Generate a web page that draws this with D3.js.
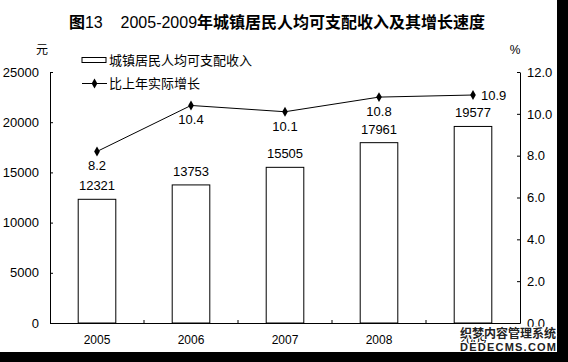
<!DOCTYPE html>
<html>
<head>
<meta charset="utf-8">
<script src="https://cdn.jsdelivr.net/npm/d3@7"></script>
<style>
  body { margin: 0; background: #fff; }
  svg { display: block; }
</style>
</head>
<body>
<div id="chart"></div>
<script>
const years = ["2005", "2006", "2007", "2008", "2009"];
const income = [12321, 13753, 15505, 17961, 19577];
const growth = [8.2, 10.4, 10.1, 10.8, 10.9];
const leftTicks = [0, 5000, 10000, 15000, 20000, 25000];
const rightTicks = [0, 2, 4, 6, 8, 10, 12];

const W = 568, H = 362;
const numFont = "'Liberation Sans', Arial, sans-serif";
const cjkFont = "'Noto Sans CJK SC', sans-serif";

const svg = d3.select("#chart").append("svg")
    .attr("width", W).attr("height", H);

svg.append("rect").attr("width", W).attr("height", H).attr("fill", "#fff");

const plot = {left: 50, right: 520, top: 72, bottom: 323};

const x = d3.scaleBand()
    .domain(years)
    .range([plot.left, plot.right])
    .paddingInner(0.6)
    .paddingOuter(0.3);
const yL = d3.scaleLinear().domain([0, 25000]).range([plot.bottom, plot.top]);
const yR = d3.scaleLinear().domain([0, 12]).range([plot.bottom, plot.top]);

// Title
const title = svg.append("text")
    .attr("x", 277).attr("y", 28)
    .attr("text-anchor", "middle")
    .attr("font-size", 16)
    .attr("fill", "#000");
title.append("tspan").attr("font-family", cjkFont).attr("font-weight", "bold").text("图");
title.append("tspan").attr("font-family", numFont).text("13\u00a0\u00a0\u00a0\u00a02005-2009");
title.append("tspan").attr("font-family", cjkFont).attr("font-weight", "bold").text("年城镇居民人均可支配收入及其增长速度");

// Units
svg.append("text").attr("x", 42).attr("y", 54).attr("text-anchor", "middle")
    .attr("font-family", cjkFont).attr("font-size", 12).text("元");
svg.append("text").attr("x", 515).attr("y", 54).attr("text-anchor", "middle")
    .attr("font-family", numFont).attr("font-size", 12).text("%");

// Axes
const axisL = svg.append("g")
    .attr("transform", `translate(${plot.left},0)`)
    .call(d3.axisLeft(yL).tickValues(leftTicks).tickSizeInner(-3).tickSizeOuter(0).tickPadding(11)
        .tickFormat(d3.format("d")));
const axisR = svg.append("g")
    .attr("transform", `translate(${plot.right},0)`)
    .call(d3.axisRight(yR).tickValues(rightTicks).tickSizeInner(-3).tickSizeOuter(0).tickPadding(7)
        .tickFormat(d3.format(".1f")));
[axisL, axisR].forEach(g => {
    g.selectAll("text").attr("font-family", numFont).attr("font-size", 13).attr("fill", "#000");
    g.selectAll("line, path").attr("stroke", "#000").attr("stroke-width", 1);
});

// Bars
svg.append("g").selectAll("rect")
    .data(years)
    .enter().append("rect")
    .attr("x", d => x(d))
    .attr("y", (d, i) => yL(income[i]))
    .attr("width", x.bandwidth())
    .attr("height", (d, i) => plot.bottom - yL(income[i]))
    .attr("fill", "#fff")
    .attr("stroke", "#000")
    .attr("stroke-width", 1);

// Bottom axis
const axisB = svg.append("g")
    .attr("transform", `translate(0,${plot.bottom})`)
    .call(d3.axisBottom(x).tickSize(0).tickPadding(12));
axisB.select("path").attr("stroke", "#000");
axisB.selectAll("text").attr("font-family", numFont).attr("font-size", 12).attr("fill", "#000");
const step = x.step();
svg.append("g").selectAll("line")
    .data(years.slice(1))
    .enter().append("line")
    .attr("x1", d => x(d) - step * x.paddingInner() / 2)
    .attr("x2", d => x(d) - step * x.paddingInner() / 2)
    .attr("y1", plot.bottom).attr("y2", plot.bottom - 3)
    .attr("stroke", "#000");

// Bar labels
svg.append("g").selectAll("text")
    .data(years)
    .enter().append("text")
    .attr("x", d => x(d) + x.bandwidth() / 2)
    .attr("y", (d, i) => yL(income[i]) - 9)
    .attr("text-anchor", "middle")
    .attr("font-family", numFont).attr("font-size", 13)
    .text((d, i) => income[i]);

// Growth line
const cx = d => x(d) + x.bandwidth() / 2;
const line = d3.line()
    .x(d => cx(d))
    .y((d, i) => yR(growth[i]));
svg.append("path")
    .datum(years)
    .attr("d", line)
    .attr("fill", "none")
    .attr("stroke", "#000")
    .attr("stroke-width", 1);

const diamond = d3.symbol().type(d3.symbolDiamond).size(28);
svg.append("g").selectAll("path")
    .data(years)
    .enter().append("path")
    .attr("d", diamond)
    .attr("transform", (d, i) => `translate(${cx(d)},${yR(growth[i])})`)
    .attr("fill", "#000");

svg.append("g").selectAll("text")
    .data(years)
    .enter().append("text")
    .attr("x", (d, i) => i === years.length - 1 ? cx(d) + 8 : cx(d))
    .attr("y", (d, i) => i === years.length - 1 ? yR(growth[i]) + 5 : yR(growth[i]) + 19)
    .attr("text-anchor", (d, i) => i === years.length - 1 ? "start" : "middle")
    .attr("font-family", numFont).attr("font-size", 13)
    .text((d, i) => d3.format(".1f")(growth[i]));

// Legend
const legend = svg.append("g");
legend.append("rect")
    .attr("x", 82).attr("y", 57.5).attr("width", 24).attr("height", 5)
    .attr("fill", "#fff").attr("stroke", "#000");
legend.append("text")
    .attr("x", 109).attr("y", 65)
    .attr("font-family", cjkFont).attr("font-size", 13)
    .text("城镇居民人均可支配收入");
legend.append("line")
    .attr("x1", 82).attr("x2", 107).attr("y1", 83.5).attr("y2", 83.5)
    .attr("stroke", "#000");
legend.append("path")
    .attr("d", diamond)
    .attr("transform", "translate(94.5,83.5)")
    .attr("fill", "#000");
legend.append("text")
    .attr("x", 109).attr("y", 88)
    .attr("font-family", cjkFont).attr("font-size", 13)
    .text("比上年实际增长");

// Black frame edges
svg.append("rect").attr("x", 557).attr("y", 0).attr("width", W - 557).attr("height", H).attr("fill", "#000");
svg.append("rect").attr("x", 0).attr("y", 352).attr("width", W).attr("height", H - 352).attr("fill", "#000");

// Watermark
svg.append("text")
    .attr("x", 508).attr("y", 338)
    .attr("text-anchor", "middle")
    .attr("font-family", cjkFont).attr("font-size", 12).attr("font-weight", "bold")
    .attr("fill", "#222").attr("stroke", "#fff").attr("stroke-width", 2)
    .attr("paint-order", "stroke")
    .attr("textLength", 96).attr("lengthAdjust", "spacingAndGlyphs")
    .text("织梦内容管理系统");
svg.append("text")
    .attr("x", 508).attr("y", 351)
    .attr("text-anchor", "middle")
    .attr("font-family", numFont).attr("font-size", 11).attr("font-weight", "bold")
    .attr("fill", "#222").attr("stroke", "#fff").attr("stroke-width", 2)
    .attr("paint-order", "stroke")
    .attr("textLength", 96).attr("lengthAdjust", "spacing")
    .text("DEDECMS.COM");
</script>
</body>
</html>
